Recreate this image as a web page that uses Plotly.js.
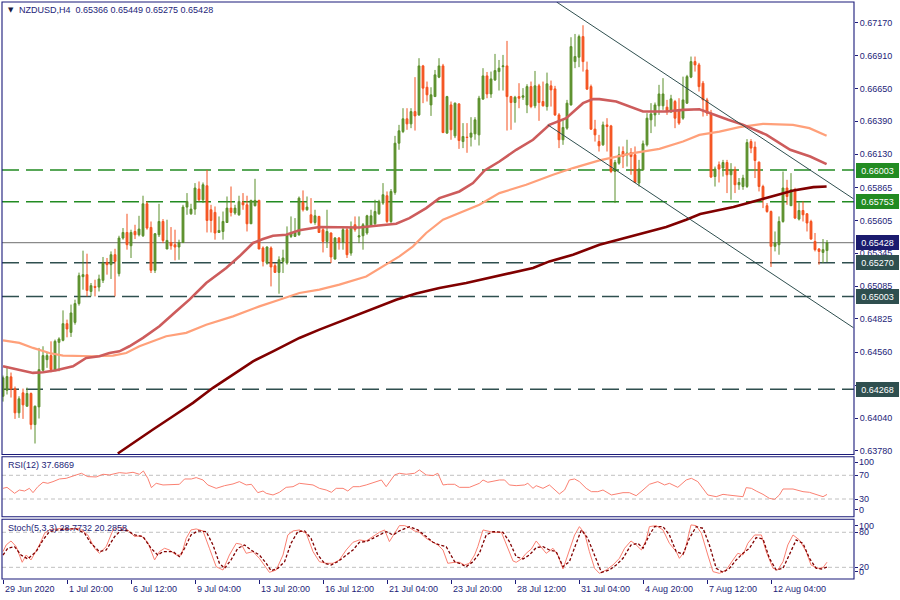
<!DOCTYPE html>
<html><head><meta charset="utf-8">
<script src="https://cdn.plot.ly/plotly-3.0.1.min.js"></script>
<style>html,body{margin:0;padding:0;background:#fff;}#chart{width:900px;height:600px;}</style>
</head><body><div id="chart"></div>
<script>
// ---------------- DATA ----------------
const symbolTitle = 'NZDUSD,H4\u00a0\u00a00.65366 0.65449 0.65275 0.65428';
const open = [
0.64212,0.64260,0.64366,0.64271,0.64081,0.64239,0.64133,0.64234,0.63988,0.64128,
0.64418,0.64502,0.64534,0.64423,0.64639,0.64655,0.64787,0.64718,0.64797,0.64946,
0.65159,0.65175,0.65042,0.65082,0.65077,0.65130,0.65272,0.65254,0.65333,0.65183,
0.65465,0.65509,0.65404,0.65517,0.65491,0.65483,0.65736,0.65549,0.65209,0.65491,
0.65596,0.65378,0.65430,0.65412,0.65394,0.65430,0.65710,0.65657,0.65694,0.65853,
0.65768,0.65879,0.65689,0.65668,0.65509,0.65517,0.65588,0.65702,0.65663,0.65649,
0.65747,0.65728,0.65578,0.65721,0.65763,0.65386,0.65267,0.65386,0.65246,0.65193,
0.65280,0.65267,0.65478,0.65478,0.65491,0.65747,0.65689,0.65649,0.65588,0.65636,
0.65531,0.65438,0.65505,0.65299,0.65465,0.65430,0.65531,0.65346,0.65570,0.65473,
0.65483,0.65505,0.65557,0.65578,0.65657,0.65742,0.65800,0.65596,0.65826,0.66216,
0.66308,0.66409,0.66369,0.66466,0.66440,0.66828,0.66659,0.66519,0.66585,0.66739,
0.66828,0.66296,0.66519,0.66274,0.66527,0.66229,0.66264,0.66264,0.66290,0.66282,
0.66565,0.66749,0.66606,0.66717,0.66783,0.66822,0.66828,0.66585,0.66538,0.66585,
0.66580,0.66519,0.66664,0.66512,0.66670,0.66546,0.66506,0.66670,0.66646,0.66440,
0.66243,0.66335,0.66519,0.66862,0.66897,0.67060,0.66796,0.66664,0.66327,0.66229,
0.66203,0.66361,0.66353,0.65992,0.66058,0.66150,0.66124,0.66142,0.66124,0.65900,
0.66005,0.66203,0.66401,0.66440,0.66512,0.66512,0.66501,0.66464,0.66546,0.66480,
0.66414,0.66533,0.66739,0.66862,0.66836,0.66691,0.66559,0.66454,0.65952,0.66045,
0.66019,0.66063,0.65966,0.66005,0.65887,0.65873,0.65873,0.66229,0.66185,0.66066,
0.65873,0.65721,0.65675,0.65399,0.65412,0.65596,0.65861,0.65721,0.65847,0.65615,
0.65683,0.65657,0.65596,0.65438,0.65378,0.65351,0.65366];
const high = [
0.64376,0.64439,0.64400,0.64289,0.64212,0.64273,0.64281,0.64242,0.64139,0.64595,
0.64608,0.64555,0.64647,0.64661,0.64679,0.64892,0.64819,0.64938,0.64977,0.65191,
0.65365,0.65341,0.65109,0.65135,0.65175,0.65315,0.65307,0.65359,0.65380,0.65483,
0.65544,0.65657,0.65531,0.65570,0.65641,0.65800,0.65755,0.65596,0.65505,0.65736,
0.65615,0.65610,0.65552,0.65531,0.65452,0.65728,0.65821,0.65736,0.65900,0.65913,
0.65905,0.66005,0.65728,0.65715,0.65636,0.65675,0.65794,0.65873,0.65728,0.65800,
0.65821,0.65800,0.65768,0.65934,0.65768,0.65399,0.65399,0.65399,0.65267,0.65320,
0.65373,0.65557,0.65636,0.65623,0.65794,0.65842,0.65794,0.65781,0.65689,0.65641,
0.65544,0.65689,0.65509,0.65473,0.65473,0.65557,0.65557,0.65596,0.65636,0.65636,
0.65584,0.65649,0.65689,0.65768,0.65768,0.65900,0.65834,0.65853,0.66274,0.66361,
0.66493,0.66493,0.66493,0.66739,0.66889,0.66836,0.66704,0.66659,0.66796,0.66889,
0.66844,0.66591,0.66546,0.66538,0.66533,0.66375,0.66375,0.66422,0.66422,0.66591,
0.66810,0.66780,0.66783,0.66923,0.66875,0.66915,0.67026,0.66591,0.66591,0.66691,
0.66652,0.66683,0.66704,0.66788,0.66686,0.66704,0.66775,0.66712,0.66670,0.66454,
0.66401,0.66559,0.67055,0.67081,0.67076,0.67150,0.66862,0.66680,0.66401,0.66282,
0.66387,0.66414,0.66361,0.66084,0.66190,0.66190,0.66243,0.66177,0.66190,0.66084,
0.66237,0.66454,0.66533,0.66538,0.66678,0.66731,0.66559,0.66599,0.66559,0.66572,
0.66743,0.66757,0.66902,0.66902,0.66852,0.66709,0.66575,0.66480,0.66031,0.66071,
0.66084,0.66084,0.66058,0.66031,0.65940,0.65966,0.66248,0.66248,0.66229,0.66071,
0.65887,0.65742,0.65683,0.65517,0.65636,0.65992,0.65926,0.65979,0.65863,0.65747,
0.65755,0.65663,0.65610,0.65505,0.65386,0.65457,0.65449];
const low = [
0.64170,0.64226,0.64202,0.64033,0.64041,0.64033,0.64131,0.63949,0.63838,0.64036,
0.64410,0.64437,0.64402,0.64410,0.64410,0.64647,0.64679,0.64682,0.64779,0.64930,
0.65056,0.65003,0.65003,0.65003,0.65042,0.65109,0.65175,0.65141,0.65003,0.65161,
0.65452,0.65373,0.65307,0.65457,0.65478,0.65473,0.65531,0.65188,0.65188,0.65473,
0.65425,0.65378,0.65373,0.65288,0.65293,0.65425,0.65649,0.65649,0.65649,0.65755,
0.65742,0.65509,0.65509,0.65452,0.65505,0.65452,0.65584,0.65636,0.65649,0.65641,
0.65689,0.65517,0.65578,0.65715,0.65378,0.65240,0.65254,0.65082,0.65188,0.65024,
0.65188,0.65254,0.65465,0.65473,0.65483,0.65675,0.65681,0.65578,0.65570,0.65505,
0.65351,0.65386,0.65267,0.65293,0.65373,0.65373,0.65307,0.65325,0.65515,0.65425,
0.65373,0.65491,0.65552,0.65562,0.65649,0.65728,0.65584,0.65584,0.65808,0.66164,
0.66296,0.66322,0.66335,0.66316,0.66432,0.66533,0.66546,0.66432,0.66583,0.66731,
0.66296,0.66290,0.66243,0.66256,0.66171,0.66177,0.66140,0.66190,0.66243,0.66198,
0.66559,0.66572,0.66575,0.66709,0.66633,0.66633,0.66316,0.66322,0.66379,0.66493,
0.66559,0.66454,0.66493,0.66493,0.66393,0.66506,0.66474,0.66506,0.66432,0.66177,
0.66203,0.66322,0.66514,0.66810,0.66818,0.66783,0.66638,0.66322,0.66229,0.66150,
0.66195,0.66150,0.65979,0.65742,0.66045,0.66019,0.66031,0.65966,0.65900,0.65873,
0.65999,0.66190,0.66296,0.66348,0.66440,0.66480,0.66440,0.66456,0.66335,0.66361,
0.66401,0.66527,0.66731,0.66783,0.66625,0.66427,0.66432,0.65940,0.65873,0.65905,
0.65952,0.65821,0.65768,0.65821,0.65847,0.65847,0.65861,0.66137,0.65940,0.65834,
0.65702,0.65665,0.65236,0.65359,0.65333,0.65586,0.65728,0.65721,0.65615,0.65604,
0.65596,0.65517,0.65452,0.65359,0.65254,0.65267,0.65275];
const close = [
0.64358,0.64368,0.64271,0.64081,0.64192,0.64144,0.64234,0.63988,0.64133,0.64423,
0.64534,0.64534,0.64423,0.64647,0.64666,0.64787,0.64745,0.64872,0.64946,0.65167,
0.65175,0.65050,0.65088,0.65074,0.65141,0.65267,0.65254,0.65333,0.65280,0.65465,
0.65509,0.65412,0.65509,0.65491,0.65536,0.65736,0.65544,0.65209,0.65499,0.65596,
0.65446,0.65446,0.65404,0.65394,0.65430,0.65710,0.65755,0.65694,0.65861,0.65768,
0.65887,0.65604,0.65604,0.65505,0.65525,0.65596,0.65702,0.65668,0.65702,0.65755,
0.65728,0.65578,0.65763,0.65763,0.65378,0.65280,0.65394,0.65236,0.65193,0.65293,
0.65307,0.65491,0.65505,0.65509,0.65781,0.65689,0.65710,0.65588,0.65641,0.65509,
0.65438,0.65517,0.65315,0.65465,0.65430,0.65531,0.65333,0.65552,0.65531,0.65483,
0.65570,0.65641,0.65641,0.65675,0.65755,0.65808,0.65596,0.65834,0.66216,0.66314,
0.66409,0.66369,0.66466,0.66432,0.66828,0.66652,0.66599,0.66599,0.66757,0.66828,
0.66300,0.66585,0.66322,0.66533,0.66237,0.66269,0.66261,0.66296,0.66401,0.66572,
0.66749,0.66606,0.66725,0.66791,0.66810,0.66828,0.66585,0.66538,0.66580,0.66572,
0.66591,0.66664,0.66506,0.66670,0.66538,0.66512,0.66686,0.66638,0.66440,0.66243,
0.66340,0.66533,0.66981,0.66902,0.67060,0.66862,0.66644,0.66327,0.66282,0.66195,
0.66361,0.66348,0.65992,0.66063,0.66124,0.66110,0.66137,0.66110,0.65905,0.66011,
0.66211,0.66414,0.66448,0.66519,0.66606,0.66606,0.66466,0.66567,0.66414,0.66375,
0.66559,0.66743,0.66862,0.66836,0.66664,0.66559,0.66454,0.65948,0.66011,0.66011,
0.66063,0.65966,0.66005,0.65887,0.65905,0.65940,0.66221,0.66177,0.66079,0.65873,
0.65768,0.65675,0.65399,0.65425,0.65596,0.65861,0.65794,0.65847,0.65623,0.65683,
0.65649,0.65584,0.65457,0.65373,0.65359,0.65373,0.65428];

// moving averages: [bar index, price]
const maFast = [[0,0.64449],[7.5,0.64397],[10,0.64402],[13.3,0.64418],[17.5,0.64449],[20.8,0.64516],[24.1,0.64529],[26.6,0.64555],[29.1,0.64568],[31.6,0.64608],[35,0.64674],[39.1,0.64766],[43.3,0.64885],[46.6,0.64977],[50.8,0.65109],[55.8,0.65228],[59.1,0.65320],[62.5,0.65426],[65,0.65457],[67.5,0.65483],[70.8,0.65491],[74.1,0.65527],[79.1,0.65552],[84.1,0.65552],[89.1,0.65549],[93.3,0.65562],[98.3,0.65578],[101.6,0.65623],[105.8,0.65702],[109.1,0.65781],[114.1,0.65834],[117.5,0.65900],[120.4,0.66000],[124.1,0.66071],[128.3,0.66164],[132.5,0.66243],[136.6,0.66361],[140.8,0.66414],[145,0.66533],[147.5,0.66565],[149.1,0.66565],[153.3,0.66546],[157.5,0.66493],[160,0.66467],[165.8,0.66467],[170,0.66480],[174.1,0.66485],[176.6,0.66454],[181.3,0.66401],[185.1,0.66361],[190.9,0.66282],[196.8,0.66164],[201.8,0.66111],[205.9,0.66050]];
const maMid = [[0,0.64655],[4.1,0.64635],[7.5,0.64595],[11.6,0.64555],[15,0.64534],[22.5,0.64529],[27.5,0.64534],[30.8,0.64555],[34.1,0.64608],[40.8,0.64687],[45.8,0.64714],[50.8,0.64779],[57.5,0.64845],[64.1,0.64924],[69.1,0.64977],[74.1,0.65030],[79.1,0.65056],[84.1,0.65096],[90.8,0.65161],[95.8,0.65254],[99.1,0.65320],[102.5,0.65399],[105.8,0.65505],[110,0.65610],[114.1,0.65663],[119.1,0.65728],[124.1,0.65821],[130.8,0.65887],[137.5,0.65966],[142.5,0.66019],[149.1,0.66080],[157.5,0.66137],[164.1,0.66171],[170,0.66229],[174.1,0.66282],[179.1,0.66308],[184.1,0.66343],[190,0.66369],[197.5,0.66361],[201.6,0.66335],[205.9,0.66274]];
const maSlow = [[28.7,0.63759],[32.5,0.63844],[37.5,0.63949],[42.5,0.64054],[47.5,0.64160],[52.5,0.64279],[57.5,0.64384],[62.5,0.64489],[67.5,0.64568],[74.1,0.64674],[79.1,0.64740],[86.6,0.64835],[92.9,0.64914],[98.3,0.64977],[103.3,0.65025],[109.1,0.65070],[115.8,0.65109],[124.1,0.65167],[132.5,0.65228],[136.6,0.65280],[142.5,0.65333],[149.1,0.65412],[157.5,0.65483],[165.8,0.65552],[170.8,0.65610],[174.3,0.65655],[182.6,0.65710],[190.9,0.65781],[197.6,0.65842],[202.6,0.65868],[205.9,0.65873]];

// channel lines [bar index, price]
const channelUpper = [[138.4,0.67334],[212.6,0.65776]];
const channelLower = [[136.2,0.66361],[212.6,0.64755]];

// horizontal levels
const levelPrices = [0.66003, 0.65753, 0.65270, 0.65003, 0.64268];
const levelLabels = ['0.66003','0.65753','0.65270','0.65003','0.64268'];
const lastPrice = 0.65428, lastPriceLabel = '0.65428';

// price axis ticks
const priceTicks = [0.67170,0.66910,0.66650,0.66390,0.66130,0.65865,0.65605,0.65345,0.65085,0.64825,0.64560,0.64300,0.64040,0.63780];
const priceTickText = ['0.67170','0.66910','0.66650','0.66390','0.66130','0.65865','0.65605','0.65345','0.65085','0.64825','0.64560','0.64300','0.64040','0.63780'];

// time axis ticks (bar index -> label)
const timeTickIdx = [0,16,32,48,64,80,96,112,128,144,160,176,192];
const timeTickText = ['29 Jun 2020','1 Jul 20:00','6 Jul 12:00','9 Jul 04:00','13 Jul 20:00','16 Jul 12:00','21 Jul 04:00','23 Jul 20:00','28 Jul 12:00','31 Jul 04:00','4 Aug 20:00','7 Aug 12:00','12 Aug 04:00'];

// RSI(12) [bar index, value]
const rsiTitle = 'RSI(12) 37.6869';
const rsi = [[0,48.0],[1,49.7],[2.9,39.6],[4.1,45.2],[5.4,43.5],[6.6,48.0],[7.5,40.7],[8.7,50.8],[10,58.2],[11.2,56.5],[12.5,59.3],[14.1,63.8],[15.8,64.9],[18.3,70.6],[19.6,73.4],[21.2,67.7],[23.3,67.2],[25,71.7],[26.6,70.6],[29.1,74.5],[30.8,73.4],[32.5,75.1],[34.1,71.7],[35.1,77.3],[36.2,64.9],[37.1,49.2],[38.3,56.5],[40,53.7],[41.6,53.7],[44.1,54.8],[45.4,63.8],[47.1,63.8],[48.3,66.1],[50,62.1],[51.2,53.7],[53.3,48.0],[55.4,52.5],[57.5,55.4],[59.1,59.3],[60.8,53.7],[62.1,54.8],[63.7,40.7],[65,43.5],[65.8,39.6],[67.5,36.8],[69.1,41.3],[70.8,49.7],[72.5,50.8],[74.1,56.5],[75.8,54.8],[77.5,53.7],[79.1,48.0],[80.8,45.2],[82.1,41.3],[83.3,48.0],[85,48.0],[86.2,43.5],[87.5,50.8],[89.1,50.8],[90.8,53.7],[92.1,56.5],[93.3,59.3],[94.6,62.1],[95.8,50.8],[97.9,70.6],[99.1,73.4],[100.8,71.7],[102.9,73.4],[104.1,79.0],[105.8,70.6],[107.5,69.4],[108.7,73.4],[110,53.7],[111.2,54.8],[112.9,54.8],[114.1,49.7],[116.6,49.7],[119.1,56.5],[120,62.1],[121.2,58.2],[124.1,62.1],[125.4,62.1],[126.6,53.7],[128.3,52.5],[130.4,53.7],[131.2,56.5],[132.5,48.0],[133.3,52.5],[135,48.0],[136.6,53.7],[139.1,38.5],[140.4,45.2],[141.6,62.1],[142.9,63.8],[144.1,59.3],[145.8,48.0],[147.1,42.4],[148.7,42.4],[150,45.2],[152.1,36.8],[155,40.7],[156.6,40.7],[158.3,35.6],[160,45.2],[161.6,54.8],[163.7,59.3],[165.4,53.7],[166.6,56.5],[168.7,49.7],[170.8,62.1],[172.1,64.9],[173.7,59.3],[176.2,36.8],[178.3,33.9],[180,37.9],[181.2,36.8],[182.9,35.1],[185,33.9],[185.8,49.2],[187.1,48.0],[188.3,43.5],[190,37.9],[191.6,31.1],[192.9,29.4],[194.1,36.8],[195,46.9],[197.5,46.9],[200,42.4],[201.6,41.3],[203.3,37.9],[205,33.9],[206,37.69]];
const rsiLevels = [70, 30];

// Stochastic(5,3,3)
const stochTitle = 'Stoch(5,3,3) 28.7732 20.2858';
const stochMain = [[0,46.9],[0.8,58.3],[2,65.1],[3.3,55.4],[4.8,28.6],[5.8,41.1],[7,32.6],[9.1,58.3],[10.4,78.3],[11.6,84.0],[13.3,85.7],[14.6,86.9],[15.8,84.0],[17,85.7],[19.1,86.9],[21.2,75.4],[22.9,52.6],[24.1,44.0],[25.8,55.4],[27.5,84.0],[28.7,88.0],[30,88.0],[31.2,84.0],[32.9,72.6],[34.5,74.3],[36.2,62.9],[37.9,32.6],[39.1,46.9],[40.4,52.6],[41.6,49.7],[43.3,41.1],[44.6,41.1],[45.8,69.7],[47,84.0],[48.3,85.7],[50,82.3],[51.6,52.6],[53.3,21.1],[55,15.4],[56.6,41.1],[58.3,61.1],[59.6,59.4],[60.8,44.0],[62.5,46.9],[64.1,35.4],[65.8,18.3],[66.6,11.4],[68.3,15.4],[70,41.1],[71.2,75.4],[72.5,82.3],[74.1,84.0],[75.8,78.3],[77.5,46.9],[79.1,29.7],[80.8,26.9],[82.5,26.9],[84.1,32.6],[85.8,49.7],[87.5,62.9],[89.1,66.9],[90.8,65.1],[92.5,72.6],[94.1,80.0],[95.4,84.0],[96.6,64.0],[97.9,78.3],[99.1,91.4],[100.4,91.4],[101.6,88.0],[102.9,82.3],[104.1,80.0],[105.8,69.7],[107.5,62.9],[108.7,58.3],[110,49.7],[111.2,26.9],[112.9,28.6],[114.1,28.6],[115.4,24.0],[116.6,26.9],[117.9,41.1],[118.7,55.4],[120,84.0],[121.2,82.3],[122.5,80.0],[124.6,80.0],[126.2,52.6],[127.5,30.9],[128.3,28.6],[129.6,34.3],[130.8,44.0],[132.1,51.4],[133.3,65.1],[134.6,53.7],[135.8,44.0],[137.5,52.6],[138.7,41.1],[140,17.1],[141.2,41.1],[142.9,75.4],[144.1,89.7],[145.4,78.3],[146.6,46.9],[147.9,18.3],[149.1,9.7],[150.8,15.4],[152.5,24.0],[154.1,35.4],[155.4,52.6],[157,65.1],[158.3,58.3],[159.6,49.7],[160.8,66.9],[161.6,89.7],[163.3,91.4],[165,84.0],[166.6,61.1],[168.3,46.9],[169.1,35.4],[170.4,46.9],[171.2,69.7],[172,92.6],[173.3,91.4],[174.6,78.3],[176.2,41.1],[177.5,12.6],[179.1,9.7],[180.8,15.4],[182.5,32.6],[183.7,44.0],[185,41.1],[186.2,61.1],[187.9,75.4],[189.6,75.4],[190.8,46.9],[192.5,18.3],[193.7,15.4],[195,29.7],[196.2,58.3],[197.5,75.4],[199.1,66.9],[200.8,46.9],[202,24.0],[203.7,18.3],[205,19.4],[206,28.77]];
const stochSignal = [[0,41.1],[1.2,52.6],[2.9,55.4],[4.5,41.1],[6.2,34.3],[8.3,46.9],[10,66.9],[11.6,81.1],[13.7,84.0],[15.8,85.7],[18.3,85.7],[20.4,78.3],[22,61.1],[24.1,46.9],[25.8,49.7],[27.9,72.6],[29.6,84.0],[31.2,82.3],[32.9,75.4],[35,72.6],[37,52.6],[38.7,41.1],[40,46.9],[42.5,46.9],[44.1,38.3],[45.4,52.6],[47,75.4],[48.7,82.3],[50.8,81.1],[52.5,58.3],[54.1,26.9],[55.4,18.3],[57,32.6],[58.7,52.6],[60.4,58.3],[62,49.7],[64.1,41.1],[65.8,26.9],[67,14.3],[68.7,18.3],[70.4,29.7],[72,61.1],[73.7,81.1],[75.4,82.3],[77,69.7],[78.7,41.1],[80.4,26.9],[82,24.0],[83.7,29.7],[85.4,38.3],[87.5,49.7],[89.1,62.9],[90.8,64.0],[92.5,69.7],[94.1,75.4],[95.8,81.1],[97.5,75.4],[99.1,82.3],[101.6,89.7],[103.7,84.0],[105.8,72.6],[107.5,62.9],[109.1,58.3],[110.8,55.4],[112.9,29.7],[114.1,26.9],[115.8,21.1],[117.5,29.7],[119.1,44.0],[120.8,75.4],[122.5,81.1],[125,80.0],[126.6,64.0],[128.3,38.3],[130,34.3],[131.6,41.1],[133.3,53.7],[135,55.4],[136.6,49.7],[138.3,46.9],[140,21.1],[141.6,29.7],[143.3,61.1],[144.6,84.0],[146.2,69.7],[147.9,41.1],[149.6,11.4],[151.6,15.4],[153.3,24.0],[155,35.4],[157,58.3],[158.7,61.1],[160,52.6],[161.6,75.4],[162.9,89.7],[165,89.7],[166.6,75.4],[168.3,46.9],[170,42.3],[171.6,69.7],[173.3,89.7],[175,86.9],[176.6,58.3],[178.3,18.3],[180,11.4],[181.6,18.3],[183.3,32.6],[185,44.0],[186.6,52.6],[188.3,70.9],[190,68.6],[191.6,35.4],[193.3,15.4],[195,18.3],[196.6,41.1],[198.3,66.9],[200,61.1],[201.6,35.4],[203.3,18.3],[204.6,17.1],[206,20.29]];
const stochLevels = [80, 20];
const rsiAxisLabels = ['100','70','30','0'];
const stochAxisLabels = ['100','80','20','0'];

// ---------------- STYLE / LAYOUT ----------------
const W = 900, H = 600;
const FONT = '"Liberation Sans", Arial, sans-serif';
const NAVY = '#1b1b7a';
const TXT = '#1d1d78';
const UP = '#5a8f2a', DOWN = '#f4511e';
const py = v => 1 - v / H;   // pixel row -> paper
const pxx = v => v / W;      // pixel col -> paper
const levelColors = ['#228b22','#228b22','#2f4f4f','#2f4f4f','#2f4f4f'];

const barIdx = open.map((_, i) => i);
const xs = a => a.map(p => p[0]);
const ys = a => a.map(p => p[1]);

const traces = [
  {type:'candlestick', x:barIdx, open, high, low, close, xaxis:'x', yaxis:'y',
   increasing:{line:{color:UP,width:1}, fillcolor:UP},
   decreasing:{line:{color:DOWN,width:1}, fillcolor:DOWN},
   whiskerwidth:0, hoverinfo:'skip', showlegend:false},
  {type:'scatter', mode:'lines', x:xs(maMid), y:ys(maMid), line:{color:'#ffa07a', width:2.2}, xaxis:'x', yaxis:'y', hoverinfo:'skip'},
  {type:'scatter', mode:'lines', x:xs(maFast), y:ys(maFast), line:{color:'#cd5c5c', width:2.6}, xaxis:'x', yaxis:'y', hoverinfo:'skip'},
  {type:'scatter', mode:'lines', x:xs(maSlow), y:ys(maSlow), line:{color:'#800000', width:2.6}, xaxis:'x', yaxis:'y', hoverinfo:'skip'},
  {type:'scatter', mode:'lines', x:xs(channelUpper), y:ys(channelUpper), line:{color:'#2f4f4f', width:1}, xaxis:'x', yaxis:'y', hoverinfo:'skip'},
  {type:'scatter', mode:'lines', x:xs(channelLower), y:ys(channelLower), line:{color:'#2f4f4f', width:1}, xaxis:'x', yaxis:'y', hoverinfo:'skip'},
  {type:'scatter', mode:'lines', x:xs(rsi), y:ys(rsi), line:{color:'#fa8072', width:1}, xaxis:'x', yaxis:'y2', hoverinfo:'skip'},
  {type:'scatter', mode:'lines', x:xs(stochMain), y:ys(stochMain), line:{color:'#fa8072', width:1}, xaxis:'x', yaxis:'y3', hoverinfo:'skip'},
  {type:'scatter', mode:'lines', x:xs(stochSignal), y:ys(stochSignal), line:{color:'#800000', width:1.3, dash:'3px,2px'}, xaxis:'x', yaxis:'y3', hoverinfo:'skip'}
];

const shapes = [];
levelPrices.forEach((p, i) => shapes.push({type:'line', xref:'x domain', x0:0, x1:1, yref:'y', y0:p, y1:p,
  line:{color:levelColors[i], width:1.5, dash:'17px,7px'}, layer:'below'}));
shapes.push({type:'line', xref:'x domain', x0:0, x1:1, yref:'y', y0:lastPrice, y1:lastPrice, line:{color:'#8a8a8a', width:1.2}, layer:'below'});
rsiLevels.forEach(v => shapes.push({type:'line', xref:'x domain', x0:0, x1:1, yref:'y2', y0:v, y1:v, line:{color:'#c0c0c0', width:1, dash:'4px,3px'}, layer:'below'}));
stochLevels.forEach(v => shapes.push({type:'line', xref:'x domain', x0:0, x1:1, yref:'y3', y0:v, y1:v, line:{color:'#c0c0c0', width:1, dash:'4px,3px'}, layer:'below'}));
// panel frames
[[2,454.5],[456.7,516.7],[519.3,579]].forEach(([t,b]) => shapes.push({type:'rect', xref:'paper', yref:'paper',
  x0:pxx(2), x1:pxx(854), y0:py(b), y1:py(t), line:{color:NAVY, width:1.1}, fillcolor:'rgba(0,0,0,0)'}));

const annotations = [];
const txtFont = {family:FONT, size:9, color:TXT};
annotations.push({xref:'paper', yref:'paper', x:pxx(6), y:py(10), xanchor:'left', yanchor:'middle', text:'\u25BC', showarrow:false, font:{family:'DejaVu Sans', size:7, color:'#1a1a40'}});
annotations.push({xref:'paper', yref:'paper', x:pxx(17), y:py(10.5), xanchor:'left', yanchor:'middle', text:symbolTitle, showarrow:false, font:txtFont});
annotations.push({xref:'paper', yref:'paper', x:pxx(6), y:py(465), xanchor:'left', yanchor:'middle', text:rsiTitle, showarrow:false, font:txtFont});
annotations.push({xref:'paper', yref:'paper', x:pxx(6), y:py(527.5), xanchor:'left', yanchor:'middle', text:stochTitle, showarrow:false, font:txtFont});
levelPrices.forEach((p, i) => annotations.push({xref:'paper', x:pxx(856), xanchor:'left', yref:'y', y:p, yanchor:'middle',
  text:levelLabels[i], showarrow:false, bgcolor:levelColors[i], bordercolor:levelColors[i], borderpad:1, width:39, height:11,
  font:{family:FONT, size:9, color:'#ffffff'}}));
annotations.push({xref:'paper', x:pxx(856), xanchor:'left', yref:'y', y:lastPrice, yanchor:'middle',
  text:lastPriceLabel, showarrow:false, bgcolor:'#1b1b6e', bordercolor:'#1b1b6e', borderpad:1, width:39, height:11,
  font:{family:FONT, size:9, color:'#ffffff'}});
// sub-window scale labels (pixel rows as drawn by the terminal)
[[462.3,475.3,499,510],[526,532.3,567.3,571.7]].forEach((rows, k) => {
  const labs = k === 0 ? rsiAxisLabels : stochAxisLabels;
  rows.forEach((r, j) => annotations.push({xref:'paper', yref:'paper', x:pxx(857), y:py(r), xanchor:'left', yanchor:'middle',
    text:labs[j], showarrow:false, font:txtFont}));
});
timeTickIdx.forEach((ix, j) => annotations.push({xref:'x', yref:'paper', x:ix, y:py(589), xanchor:'left', yanchor:'middle',
  text:timeTickText[j], showarrow:false, font:txtFont}));

const layout = {
  width:W, height:H, margin:{l:0,r:0,t:0,b:0}, paper_bgcolor:'#fff', plot_bgcolor:'#fff',
  showlegend:false, hovermode:false, dragmode:false,
  xaxis:{domain:[pxx(2), pxx(854)], range:[-0.25, 212.75], anchor:'y3', showgrid:false, zeroline:false,
    tickmode:'array', tickvals:timeTickIdx, showticklabels:false, ticks:'outside', ticklen:4, tickcolor:NAVY,
    rangeslider:{visible:false}, fixedrange:true},
  yaxis:{domain:[py(454.5), py(2)], range:[0.63751, 0.67334], side:'right', anchor:'x', showgrid:false, zeroline:false,
    tickmode:'array', tickvals:priceTicks, ticktext:priceTickText, ticks:'outside', ticklen:3, tickcolor:NAVY,
    tickfont:txtFont, fixedrange:true},
  yaxis2:{domain:[py(516.8), py(457.5)], range:[0,100], side:'right', anchor:'x', showgrid:false, zeroline:false,
    tickmode:'array', tickvals:[92,70,30,11.5], showticklabels:false, ticks:'outside', ticklen:3, tickcolor:NAVY, fixedrange:true},
  yaxis3:{domain:[py(579), py(520.6)], range:[0,100], side:'right', anchor:'x', showgrid:false, zeroline:false,
    tickmode:'array', tickvals:[91,80,20,12.5], showticklabels:false, ticks:'outside', ticklen:3, tickcolor:NAVY, fixedrange:true},
  boxgap:0.35,
  shapes, annotations
};

Plotly.newPlot('chart', traces, layout, {staticPlot:true, displayModeBar:false});
</script>
</body></html>
